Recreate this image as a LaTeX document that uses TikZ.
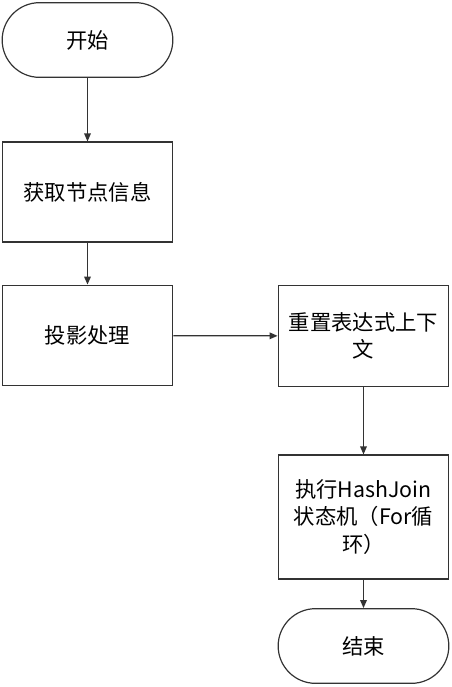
\documentclass[tikz,border=0pt]{standalone}
\usepackage{fontspec}
\setmainfont{Noto Sans CJK SC}
\usetikzlibrary{arrows.meta}
\definecolor{linegray}{HTML}{333333}
\tikzset{
  proc/.style={draw=linegray,line width=.9pt,rectangle,minimum width=128pt,align=center,font=\fontsize{16}{20.5}\selectfont},
  term/.style={draw=linegray,line width=.9pt,rectangle,rounded corners=28pt,minimum width=128pt,minimum height=56pt,font=\fontsize{16}{20.5}\selectfont},
  flow/.style={-{Triangle[length=6pt,width=5pt]},draw=linegray,line width=.9pt}
}
\begin{document}
\begin{tikzpicture}[x=.75pt,y=-.75pt]
\useasboundingbox (0,0) rectangle (451,687);
\node[term] (start) at (87.5,40) {开始};
\node[proc,minimum height=75pt] (info) at (87.5,192) {获取节点信息};
\node[proc,minimum height=75.5pt] (proj) at (87.5,335.5) {投影处理};
\node[proc,minimum height=75.5pt] (reset) at (363.5,336) {重置表达式上下\\文};
\node[proc,minimum height=93pt] (exec) at (363.5,517) {执行HashJoin\\状态机（For循\\环）};
\node[term] (end) at (363.5,646) {结束};
\draw[flow] (start) -- (info);
\draw[flow] (info) -- (proj);
\draw[flow] (proj) -- (reset);
\draw[flow] (reset) -- (exec);
\draw[flow] (exec) -- (end);
\end{tikzpicture}
\end{document}
